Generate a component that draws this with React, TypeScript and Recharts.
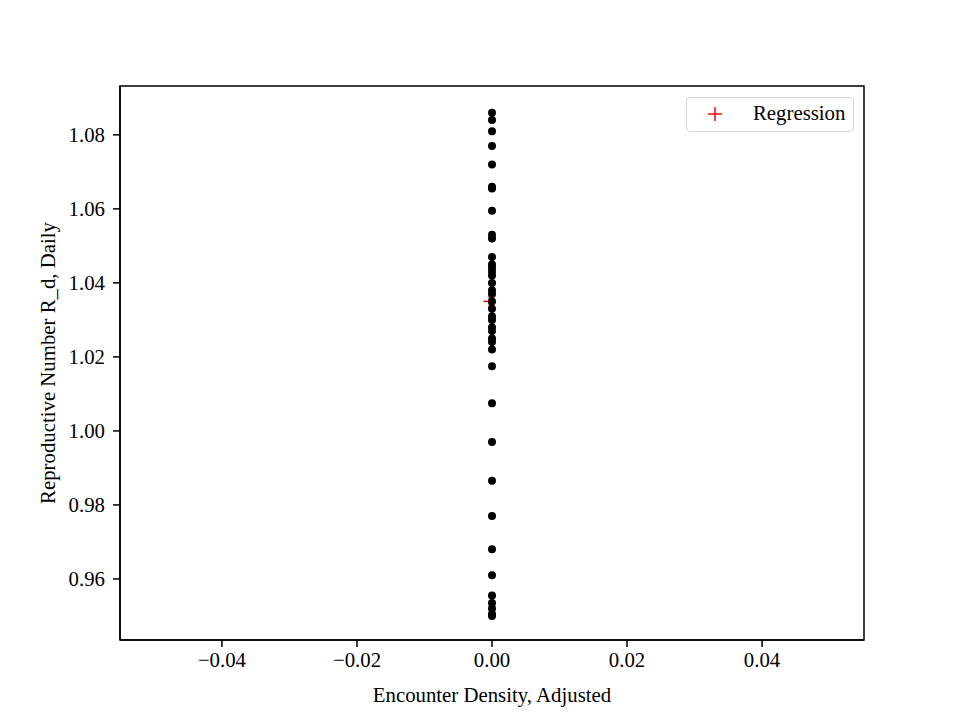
import React from 'react';
import {
  ScatterChart,
  Scatter,
  XAxis,
  YAxis,
  ReferenceArea,
} from 'recharts';

// encounter density is zero for every day, only R_d varies
const densityValues = [0];
const rValues = [
  1.086, 1.084, 1.081, 1.077, 1.072, 1.066, 1.0655, 1.0595, 1.053, 1.052,
  1.047, 1.045, 1.044, 1.043, 1.042, 1.04, 1.038, 1.037, 1.035, 1.033,
  1.031, 1.03, 1.028, 1.027, 1.025, 1.024, 1.022, 1.0175, 1.0075, 0.997,
  0.9865, 0.977, 0.968, 0.961, 0.9555, 0.9535, 0.952, 0.9505, 0.95,
];
const regressionX = [-0.0004];
const regressionY = [1.035];

const xTicks = [-0.04, -0.02, 0, 0.02, 0.04];
const yTicks = [0.96, 0.98, 1.0, 1.02, 1.04, 1.06, 1.08];

const X_DOMAIN: [number, number] = [-0.0551, 0.0551];
const Y_DOMAIN: [number, number] = [0.9435, 1.0932];

const observed = rValues.map((r) => ({ x: densityValues[0], y: r }));
const regression = regressionX.map((x, i) => ({ x, y: regressionY[i] }));

const FONT = '"Liberation Serif", "Times New Roman", serif';
const FS = 20.8;

const fmt = (v: number) => {
  const s = Math.abs(v).toFixed(2);
  return v < -1e-9 ? '\u2212' + s : s;
};

const Dot = (props: any) => (
  <circle cx={props.cx} cy={props.cy} r={4} fill="#000" />
);

const Plus = (props: any) => (
  <g stroke="#ff0000" strokeWidth={1.5}>
    <line x1={props.cx - 6} y1={props.cy} x2={props.cx + 6} y2={props.cy} />
    <line x1={props.cx} y1={props.cy - 6} x2={props.cx} y2={props.cy + 6} />
  </g>
);

// static legend box, top right inside the axes
const LegendBox = () => (
  <div
    style={{
      position: 'absolute',
      left: 686,
      top: 97,
      width: 168,
      height: 35,
      border: '1.5px solid #d6d6d6',
      borderRadius: 4,
      background: '#fff',
      fontFamily: FONT,
      fontSize: FS,
      boxSizing: 'border-box',
    }}
  >
    <svg width={20} height={20} style={{ position: 'absolute', left: 18, top: 6 }}>
      <line x1={3} y1={10} x2={17} y2={10} stroke="#ff0000" strokeWidth={1.5} />
      <line x1={10} y1={3} x2={10} y2={17} stroke="#ff0000" strokeWidth={1.5} />
    </svg>
    <span style={{ position: 'absolute', left: 66, top: 3, lineHeight: '24px' }}>
      Regression
    </span>
  </div>
);

export default function App() {
  const tickStyle = { fontFamily: FONT, fontSize: FS, fill: '#000' };
  const axisLine = { stroke: '#000', strokeWidth: 1.5 };
  const tickLine = { stroke: '#000', strokeWidth: 1.5 };
  return (
    <div style={{ position: 'absolute', left: 0, top: 0, width: 960, height: 720, background: '#fff' }}>
      <ScatterChart
        width={960}
        height={720}
        margin={{ top: 86, right: 96, left: 0, bottom: 0 }}
      >
        <XAxis
          type="number"
          dataKey="x"
          domain={X_DOMAIN}
          ticks={xTicks}
          tickFormatter={fmt}
          tick={tickStyle}
          tickSize={7}
          tickMargin={5}
          height={80}
          axisLine={axisLine}
          tickLine={tickLine}
          allowDataOverflow
          label={{
            value: 'Encounter Density, Adjusted',
            position: 'insideBottom',
            offset: 18,
            style: { fontFamily: FONT, fontSize: FS, fill: '#000' },
          }}
        />
        <YAxis
          type="number"
          dataKey="y"
          domain={Y_DOMAIN}
          ticks={yTicks}
          tickFormatter={(v: number) => v.toFixed(2)}
          tick={tickStyle}
          tickSize={7}
          tickMargin={8}
          width={120}
          axisLine={axisLine}
          tickLine={tickLine}
          allowDataOverflow
          label={{
            value: 'Reproductive Number R_d, Daily',
            angle: -90,
            position: 'insideLeft',
            offset: 48,
            style: { textAnchor: 'middle', fontFamily: FONT, fontSize: FS, fill: '#000' },
          }}
        />
        <ReferenceArea
          x1={X_DOMAIN[0]}
          x2={X_DOMAIN[1]}
          y1={Y_DOMAIN[0]}
          y2={Y_DOMAIN[1]}
          fill="none"
          stroke="#000"
          strokeWidth={1.5}
        />
        <Scatter
          name="Regression"
          data={regression}
          shape={Plus}
          isAnimationActive={false}
        />
        <Scatter
          name="Observed"
          data={observed}
          shape={Dot}
          isAnimationActive={false}
        />
      </ScatterChart>
      <LegendBox />
    </div>
  );
}
